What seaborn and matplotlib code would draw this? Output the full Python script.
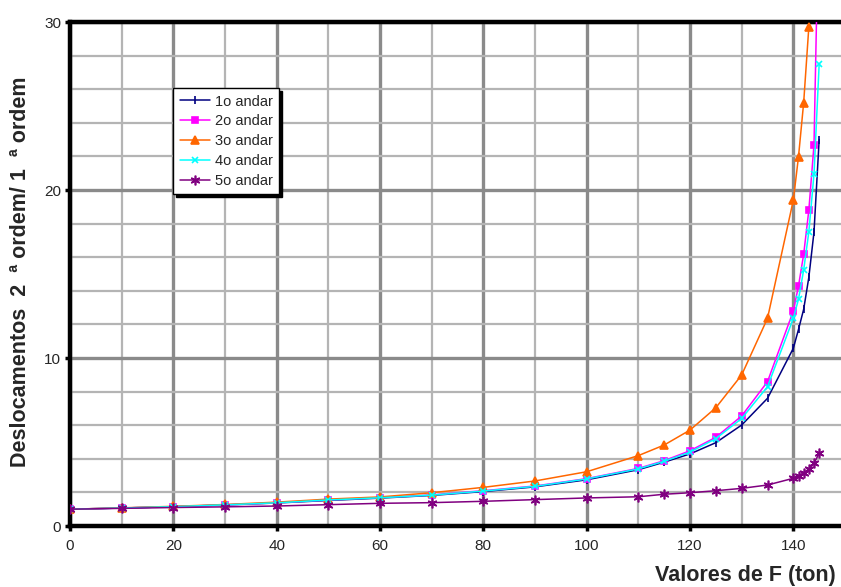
import matplotlib
matplotlib.use("Agg")
import matplotlib.pyplot as plt
import seaborn as sns
import pandas as pd
from matplotlib.ticker import MultipleLocator

# ---- data ----
F = [0, 10, 20, 30, 40, 50, 60, 70, 80, 90, 100, 110, 115, 120, 125, 130, 135,
     140, 141, 142, 143, 144, 145]
andar1 = [1.0, 1.07, 1.15, 1.25, 1.37, 1.52, 1.66, 1.82, 2.05, 2.33, 2.75, 3.35, 3.8,
          4.29, 4.96, 6.01, 7.6, 10.58, 11.7, 12.9, 14.8, 17.5, 23.0]
andar2 = [1.0, 1.07, 1.15, 1.26, 1.38, 1.55, 1.69, 1.85, 2.1, 2.38, 2.82, 3.43, 3.89,
          4.48, 5.28, 6.55, 8.59, 12.8, 14.29, 16.17, 18.8, 22.7, 38.0]
F3 = [0, 10, 20, 30, 40, 50, 60, 70, 80, 90, 100, 110, 115, 120, 125, 130, 135,
      140, 141, 142, 143]
andar3 = [1.0, 1.08, 1.17, 1.28, 1.42, 1.6, 1.73, 1.98, 2.3, 2.68, 3.23, 4.19, 4.82,
          5.71, 7.04, 8.99, 12.36, 19.4, 21.98, 25.2, 29.7]
andar4 = [1.0, 1.07, 1.15, 1.26, 1.38, 1.55, 1.68, 1.84, 2.08, 2.36, 2.8, 3.4, 3.85,
          4.4, 5.2, 6.4, 8.29, 12.36, 13.5, 15.24, 17.5, 20.95, 27.5]
andar5 = [1.0, 1.05, 1.1, 1.14, 1.19, 1.27, 1.35, 1.39, 1.47, 1.57, 1.67, 1.74, 1.89,
          1.98, 2.1, 2.24, 2.44, 2.84, 3.0, 3.17, 3.39, 3.73, 4.33]

labels = ["1o andar", "2o andar", "3o andar", "4o andar", "5o andar"]
xticks = [0, 20, 40, 60, 80, 100, 120, 140]
yticks = [0, 10, 20, 30]

series = [
    (F, andar1, labels[0], "#000080", "|", 5.5),
    (F, andar2, labels[1], "#FF00FF", "s", 5),
    (F3, andar3, labels[2], "#FF6600", "^", 5.5),
    (F, andar4, labels[3], "#00FFFF", "x", 5),
    (F, andar5, labels[4], "#800080", (6, 2, 0), 7),
]

sns.set_style("white")
plt.rcParams["font.family"] = ["Liberation Sans", "DejaVu Sans"]

fig = plt.figure(figsize=(8.41, 5.87), dpi=100)
ax = fig.add_axes([70 / 841, 1 - 526 / 587, 775 / 841, 504 / 587])

for xs, ys, lab, col, mk, ms in series:
    df = pd.DataFrame({"F": xs, "v": ys})
    sns.lineplot(data=df, x="F", y="v", ax=ax, color=col, marker=mk,
                 markersize=ms, markeredgecolor=col, markerfacecolor=col,
                 markeredgewidth=1.2, linewidth=1.1, label=lab, zorder=3,
                 sort=False, estimator=None)

ax.set_xlim(0, 150)
ax.set_ylim(0, 30)
ax.xaxis.set_major_locator(MultipleLocator(20))
ax.xaxis.set_minor_locator(MultipleLocator(10))
ax.yaxis.set_major_locator(MultipleLocator(10))
ax.yaxis.set_minor_locator(MultipleLocator(2))
ax.set_xticks(xticks)
ax.set_yticks(yticks)
ax.grid(which="minor", color="#b4b4b4", linewidth=1.6, zorder=0)
ax.grid(which="major", color="#8a8a8a", linewidth=2.4, zorder=0)
ax.set_axisbelow(True)

for s in ["left", "bottom", "top"]:
    ax.spines[s].set_visible(True)
    ax.spines[s].set_color("black")
    ax.spines[s].set_linewidth(3.2)
ax.spines["right"].set_visible(False)

ax.tick_params(which="major", direction="out", length=3.5, width=2.5,
               color="black", labelsize=11, bottom=True, left=True)
ax.tick_params(axis="x", which="major", pad=6)
ax.tick_params(axis="y", which="major", pad=3)
ax.tick_params(which="minor", length=0)
ax.set_xlabel("")
ax.set_ylabel("")

leg = ax.legend(loc="upper left", bbox_to_anchor=(0.133, 0.869),
                borderaxespad=0, fontsize=10.5, frameon=True, fancybox=False,
                edgecolor="black", framealpha=1,
                shadow={"color": "black", "alpha": 1},
                handlelength=2.1, handletextpad=0.3, labelspacing=0.4,
                borderpad=0.45)
leg.get_frame().set_linewidth(1.0)

fig.text(836 / 841, 1 - 575 / 587, "Valores de F (ton)", ha="right",
         va="center", fontsize=15.5, fontweight="bold")
fig.text(21 / 841, 1 - 272 / 587, "Deslocamentos  2  ª ordem/ 1  ª ordem",
         ha="center", va="center", rotation=90, fontsize=15.5, fontweight="bold")

fig.savefig("out.png", dpi=100)
